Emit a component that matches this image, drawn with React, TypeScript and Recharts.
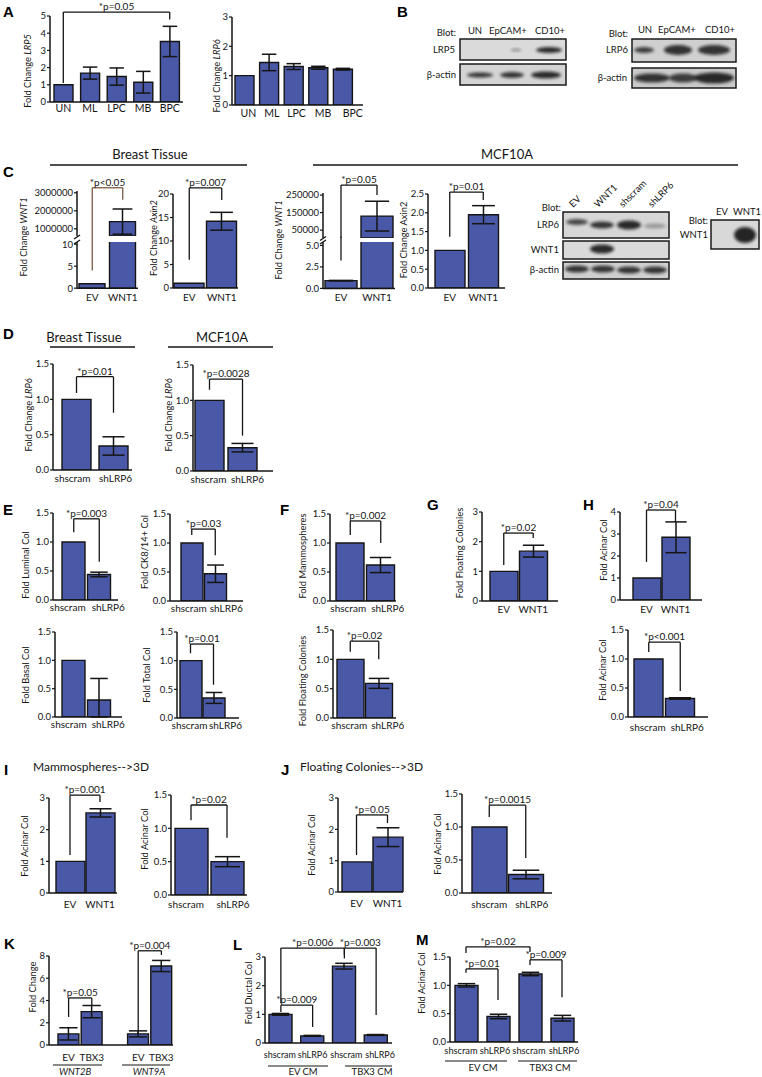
import React from 'react';
import { BarChart, Bar, XAxis, YAxis, ErrorBar, ReferenceLine } from 'recharts';

const BAR = '#4a59a7';
const INK = '#151515';
const FONT = 'Lato, "Open Sans", sans-serif';

type Err = number | [number, number] | null;
type Sig = { a: number; b: number; ya: number; top: number; yb: number; text: string; color?: string };
type Leg = { a: number; y1: number; y2: number; color?: string };

// ---------- data ----------
const cellTypes = ['UN', 'ML', 'LPC', 'MB', 'BPC'];
const lrp5Fold = [1, 1.68, 1.48, 1.15, 3.52];
const lrp5Err: Err[] = [0, 0.35, 0.5, 0.63, 0.88];
const lrp6Fold = [1, 1.45, 1.31, 1.27, 1.22];
const lrp6Err: Err[] = [0, 0.28, 0.1, 0.05, 0.03];

const evWnt = ['EV', 'WNT1'];
const shPair = ['shscram', 'shLRP6'];

const tissueWnt1 = [1, 1400000];
const tissueWnt1Err: Err[] = [0, 700000];
const tissueAxin2 = [1, 14.2];
const tissueAxin2Err: Err[] = [0, 1.9];
const mcfWnt1 = [0.9, 130000];
const mcfWnt1Err: Err[] = [0.03, 85000];
const mcfAxin2 = [1, 1.95];
const mcfAxin2Err: Err[] = [0, 0.24];

const tissueLrp6 = [1, 0.34];
const tissueLrp6Err: Err[] = [0, 0.13];
const mcfLrp6 = [1, 0.33];
const mcfLrp6Err: Err[] = [0, 0.06];

const luminal = [1, 0.44];
const luminalErr: Err[] = [0, 0.04];
const ck814 = [1, 0.47];
const ck814Err: Err[] = [0, 0.15];
const basal = [1, 0.3];
const basalErr: Err[] = [0, [0.3, 0.38]];
const totalCol = [1, 0.35];
const totalErr: Err[] = [0, 0.095];
const mammoSh = [1, 0.62];
const mammoShErr: Err[] = [0, 0.13];
const floatSh = [1, 0.59];
const floatShErr: Err[] = [0, 0.085];
const floatWnt = [1, 1.68];
const floatWntErr: Err[] = [0, 0.2];
const acinarWnt = [1, 2.85];
const acinarWntErr: Err[] = [0, 0.7];
const acinarSh = [1, 0.32];
const acinarShErr: Err[] = [0, 0.012];
const mammo3dWnt = [1, 2.53];
const mammo3dWntErr: Err[] = [0, 0.13];
const mammo3dSh = [1, 0.5];
const mammo3dShErr: Err[] = [0, 0.075];
const float3dWnt = [0.96, 1.75];
const float3dWntErr: Err[] = [0, 0.3];
const float3dSh = [1, 0.28];
const float3dShErr: Err[] = [0, 0.065];

const tbxCats = ['EV', 'TBX3', '', 'EV', 'TBX3'];
const tbxFold = [1, 3, null, 1, 7.1];
const tbxErr: Err[] = [0.55, 0.55, null, 0.27, 0.5];

const cmCats = ['shscram', 'shLRP6', 'shscram', 'shLRP6'];
const ductalCm = [1, 0.25, 2.68, 0.28];
const ductalCmErr: Err[] = [0.03, 0.015, 0.1, 0.015];
const acinarCm = [1, 0.45, 1.2, 0.42];
const acinarCmErr: Err[] = [0.03, 0.04, 0.03, 0.05];

const int = (v: number) => String(v);
const dec1 = (v: number) => v.toFixed(1);

// split a series for a broken axis
const abovePart = (vals: number[], errs: Err[], min: number) => ({
  v: vals.map((x) => (x > min ? x : null)),
  e: errs.map((e, i) => (vals[i] > min ? e : null)),
});
const belowPart = (vals: number[], errs: Err[], max: number) => ({
  v: vals.map((x) => Math.min(x, max * 1.03)),
  e: errs.map((e, i) => (vals[i] > max ? null : e)),
});

// ---------- one small bar chart ----------
const ML = 54;
const YW = 48;
const MT = 34;
const MR = 8;
const MB = 24;

type MiniProps = {
  x0: number; x1: number; yTop: number; yBot: number;
  labels: string[]; values: (number | null)[]; errs: Err[];
  domain: [number, number]; ticks: number[]; fmt?: (v: number) => string;
  barSize: number; padL?: number; padR?: number;
  sigs?: Sig[]; legs?: Leg[];
  hideX?: boolean; tickMargin?: number; tickDx?: number[]; fs?: number;
};

const catTick = (labels: string[], dxs: number[] | undefined, fs: number) => (t: any) => {
  const i = Number(t.payload.value);
  return (
    <text x={t.x + (dxs?.[i] ?? 0)} y={t.y} dy="0.72em" textAnchor="middle" fontSize={fs} fill={INK}>
      {labels[i]}
    </text>
  );
};

function Mini(p: MiniProps) {
  const w = p.x1 - p.x0 + ML + MR;
  const h = p.yBot - p.yTop + MT + MB;
  const fs = p.fs ?? 10;
  const rows = p.labels.map((l, i) => ({ k: String(i), v: p.values[i], e: p.errs[i] }));
  const line = { strokeWidth: 1.3, ifOverflow: 'visible' as const };
  return (
    <div style={{ position: 'absolute', left: p.x0 - ML, top: p.yTop - MT, width: w, height: h }}>
      <BarChart
        width={w}
        height={h}
        data={rows}
        margin={{ top: MT, right: MR, left: ML - YW, bottom: p.hideX ? MB : 0 }}
      >
        <XAxis
          dataKey="k"
          hide={p.hideX}
          height={MB}
          interval={0}
          tickLine={false}
          tickSize={0}
          tickMargin={(p.tickMargin ?? 6) - 0.5}
          axisLine={{ stroke: INK, strokeWidth: 1.5 }}
          padding={{ left: p.padL ?? 0, right: p.padR ?? 0 }}
          tick={catTick(p.labels, p.tickDx, fs)}
        />
        <YAxis
          type="number"
          width={YW}
          domain={p.domain}
          ticks={p.ticks}
          allowDataOverflow
          interval={0}
          tickSize={3}
          tickMargin={1}
          tickLine={{ stroke: INK, strokeWidth: 1.2 }}
          axisLine={{ stroke: INK, strokeWidth: 1.5 }}
          tick={{ fill: INK, fontSize: 9.5 }}
          tickFormatter={p.fmt ?? dec1}
        />
        <Bar dataKey="v" fill={BAR} stroke={INK} strokeWidth={1.4} barSize={p.barSize} isAnimationActive={false}>
          <ErrorBar dataKey="e" width={p.barSize * 0.38} stroke={INK} strokeWidth={1.5} />
        </Bar>
        {(p.legs ?? []).map((l, j) => (
          <ReferenceLine
            key={`l${j}`}
            segment={[{ x: String(l.a), y: l.y1 }, { x: String(l.a), y: l.y2 }]}
            stroke={l.color ?? INK}
            {...line}
          />
        ))}
        {(p.sigs ?? []).flatMap((s, j) => {
          const a = String(s.a);
          const b = String(s.b);
          const c = s.color ?? INK;
          return [
            <ReferenceLine key={`a${j}`} segment={[{ x: a, y: s.ya }, { x: a, y: s.top }]} stroke={c} {...line} />,
            <ReferenceLine
              key={`t${j}`}
              segment={[{ x: a, y: s.top }, { x: b, y: s.top }]}
              stroke={c}
              {...line}
              label={{ value: s.text, position: 'top', offset: 2, fontSize: 10, fill: INK }}
            />,
            <ReferenceLine key={`b${j}`} segment={[{ x: b, y: s.top }, { x: b, y: s.yb }]} stroke={c} {...line} />,
          ];
        })}
      </BarChart>
    </div>
  );
}

// ---------- overlay helpers ----------
function YLab({ x, y, parts, fs = 9.3 }: { x: number; y: number; parts: [string, boolean?][]; fs?: number }) {
  return (
    <text transform={`translate(${x},${y}) rotate(-90)`} textAnchor="middle" dominantBaseline="central" fontSize={fs} fill={INK}>
      {parts.map(([t, it], i) => (
        <tspan key={i} fontStyle={it ? 'italic' : 'normal'}>{t}</tspan>
      ))}
    </text>
  );
}

function Letter({ x, y, t }: { x: number; y: number; t: string }) {
  return (
    <text x={x} y={y} fontSize={15} fontWeight="bold" fontFamily='"Liberation Sans", Arial, sans-serif' fill="#000">
      {t}
    </text>
  );
}

function T({ x, y, t, anchor = 'middle', fs = 9.5, italic = false }: { x: number; y: number; t: string; anchor?: 'start' | 'middle' | 'end'; fs?: number; italic?: boolean }) {
  return (
    <text x={x} y={y} textAnchor={anchor} fontSize={fs} fill={INK} fontStyle={italic ? 'italic' : 'normal'}>
      {t}
    </text>
  );
}

function HLine({ x1, x2, y, w = 1.3 }: { x1: number; x2: number; y: number; w?: number }) {
  return <line x1={x1} x2={x2} y1={y} y2={y} stroke={INK} strokeWidth={w} />;
}

function Box({ x, y, w, h, fill }: { x: number; y: number; w: number; h: number; fill: string }) {
  return <rect x={x} y={y} width={w} height={h} fill={fill} stroke="#1a1a1a" strokeWidth={1.5} />;
}

function Band({ cx, cy, w, h, o }: { cx: number; cy: number; w: number; h: number; o: number }) {
  return <ellipse cx={cx} cy={cy} rx={w / 2} ry={h / 2} fill="#111" opacity={o} filter="url(#blotBlur)" />;
}

function Tilt({ x, y, t }: { x: number; y: number; t: string }) {
  return (
    <text transform={`translate(${x},${y}) rotate(-45)`} fontSize={9.5} fill={INK}>
      {t}
    </text>
  );
}

function BreakMark({ x, y }: { x: number; y: number }) {
  return <line x1={x - 3} y1={y + 2} x2={x + 3} y2={y - 2} stroke={INK} strokeWidth={1.3} />;
}

const c1Up = abovePart(tissueWnt1, tissueWnt1Err, 600000);
const c1Lo = belowPart(tissueWnt1, tissueWnt1Err, 10.5);
const c3Up = abovePart(mcfWnt1, mcfWnt1Err, 5000);
const c3Lo = belowPart(mcfWnt1, mcfWnt1Err, 5.4);

export default function App() {
  return (
    <div
      style={{
        position: 'absolute', left: 0, top: 0, width: 762, height: 1077,
        background: '#fff', fontFamily: FONT, color: INK, overflow: 'hidden',
      }}
    >
      {/* A */}
      <Mini x0={50} x1={183} yTop={16} yBot={102} labels={cellTypes} values={lrp5Fold} errs={lrp5Err}
        domain={[0, 5]} ticks={[0, 1, 2, 3, 4, 5]} fmt={int} barSize={19} fs={10.5} tickMargin={2.5}
        sigs={[{ a: 0, b: 4, ya: 1.1, top: 5.23, yb: 4.8, text: '*p=0.05' }]} />
      <Mini x0={232} x1={363} yTop={17} yBot={105} labels={cellTypes} values={lrp6Fold} errs={lrp6Err}
        domain={[0, 3]} ticks={[0, 1, 2, 3]} fmt={int} barSize={19} fs={10.5} padR={8} tickMargin={5}
        tickDx={[4, 3, 3, 5, 10]} />

      {/* C */}
      <Mini x0={77} x1={138} yTop={191.2} yBot={236.2} labels={evWnt} values={c1Up.v} errs={c1Up.e}
        domain={[600000, 3100000]} ticks={[1000000, 2000000, 3000000]} fmt={int} barSize={26} hideX
        sigs={[{ a: 0, b: 1, ya: 600000, top: 3280000, yb: 2610000, text: '*p<0.05', color: '#7a5a44' }]} />
      <Mini x0={77} x1={138} yTop={241.8} yBot={288} labels={evWnt} values={c1Lo.v} errs={c1Lo.e}
        domain={[0, 10.5]} ticks={[0, 5, 10]} fmt={int} barSize={26} tickMargin={6}
        legs={[{ a: 0, y1: 4, y2: 11.9, color: '#7a5a44' }]} />
      <Mini x0={173} x1={238} yTop={194} yBot={288} labels={evWnt} values={tissueAxin2} errs={tissueAxin2Err}
        domain={[0, 20]} ticks={[0, 5, 10, 15, 20]} fmt={int} barSize={30} tickMargin={6}
        sigs={[{ a: 0, b: 1, ya: 6, top: 21.3, yb: 18.7, text: '*p=0.007' }]} />
      <Mini x0={323} x1={395} yTop={192.9} yBot={237.9} labels={evWnt} values={c3Up.v} errs={c3Up.e}
        domain={[5000, 262000]} ticks={[50000, 150000, 250000]} fmt={int} barSize={32} hideX
        sigs={[{ a: 0, b: 1, ya: 5000, top: 307000, yb: 250000, text: '*p=0.05' }]} />
      <Mini x0={323} x1={395} yTop={241.6} yBot={288} labels={evWnt} values={c3Lo.v} errs={c3Lo.e}
        domain={[0, 5.4]} ticks={[0, 2.5, 5]} fmt={dec1} barSize={32} tickMargin={6}
        legs={[{ a: 0, y1: 3.26, y2: 6.0 }]} />
      <Mini x0={428} x1={505} yTop={194} yBot={288} labels={evWnt} values={mcfAxin2} errs={mcfAxin2Err}
        domain={[0, 2.5]} ticks={[0, 0.5, 1, 1.5, 2, 2.5]} barSize={30} padL={5} padR={5} tickMargin={6}
        sigs={[{ a: 0, b: 1, ya: 1.36, top: 2.55, yb: 2.34, text: '*p=0.01' }]} />

      {/* D */}
      <Mini x0={53} x1={132} yTop={364} yBot={470} labels={shPair} values={tissueLrp6} errs={tissueLrp6Err}
        domain={[0, 1.5]} ticks={[0, 0.5, 1, 1.5]} barSize={29} padL={5} tickMargin={5} tickDx={[-4, 2]}
        sigs={[{ a: 0, b: 1, ya: 1.09, top: 1.32, yb: 0.81, text: '*p=0.01' }]} />
      <Mini x0={193} x1={273} yTop={365} yBot={471} labels={shPair} values={mcfLrp6} errs={mcfLrp6Err}
        domain={[0, 1.5]} ticks={[0, 0.5, 1, 1.5]} barSize={29} padR={14} tickMargin={5} tickDx={[-1, 5]}
        sigs={[{ a: 0, b: 1, ya: 1.15, top: 1.3, yb: 0.5, text: '*p=0.0028' }]} />

      {/* E */}
      <Mini x0={53} x1={118} yTop={513} yBot={600} labels={shPair} values={luminal} errs={luminalErr}
        domain={[0, 1.5]} ticks={[0, 0.5, 1, 1.5]} barSize={23} padL={8} padR={6} tickMargin={4} tickDx={[-6, 9]}
        sigs={[{ a: 0, b: 1, ya: 1.17, top: 1.4, yb: 0.66, text: '*p=0.003' }]} />
      <Mini x0={170} x1={243} yTop={514} yBot={601} labels={shPair} values={ck814} errs={ck814Err}
        domain={[0, 1.5]} ticks={[0, 0.5, 1, 1.5]} barSize={22} padL={10} padR={16} tickMargin={4} tickDx={[-3, 11]}
        sigs={[{ a: 0, b: 1, ya: 1.14, top: 1.24, yb: 0.79, text: '*p=0.03' }]} />
      <Mini x0={55} x1={122} yTop={632} yBot={717} labels={shPair} values={basal} errs={basalErr}
        domain={[0, 1.5]} ticks={[0, 0.5, 1, 1.5]} barSize={23} padL={6} padR={10} tickMargin={4} tickDx={[-5, 9]} />
      <Mini x0={177} x1={239} yTop={632} yBot={718} labels={shPair} values={totalCol} errs={totalErr}
        domain={[0, 1.5]} ticks={[0, 0.5, 1, 1.5]} barSize={22} padL={2} padR={14} tickMargin={4} tickDx={[-1, 12]}
        sigs={[{ a: 0, b: 1, ya: 1.13, top: 1.29, yb: 0.58, text: '*p=0.01' }]} />

      {/* F */}
      <Mini x0={330} x1={396} yTop={514} yBot={601} labels={shPair} values={mammoSh} errs={mammoShErr}
        domain={[0, 1.5]} ticks={[0, 0.5, 1, 1.5]} barSize={28} padL={5} tickMargin={4} tickDx={[-2, 7]}
        sigs={[{ a: 0, b: 1, ya: 1.14, top: 1.38, yb: 1.0, text: '*p=0.002' }]} />
      <Mini x0={333} x1={396} yTop={630} yBot={718} labels={shPair} values={floatSh} errs={floatShErr}
        domain={[0, 1.5]} ticks={[0, 0.5, 1, 1.5]} barSize={27} padL={3} padR={3} tickMargin={4} tickDx={[-1, 9]}
        sigs={[{ a: 0, b: 1, ya: 1.13, top: 1.31, yb: 1.0, text: '*p=0.02' }]} />

      {/* G */}
      <Mini x0={482} x1={558} yTop={512} yBot={601} labels={evWnt} values={floatWnt} errs={floatWntErr}
        domain={[0, 3]} ticks={[0, 1, 2, 3]} fmt={int} barSize={28} padL={7} padR={10} tickMargin={5}
        sigs={[{ a: 0, b: 1, ya: 1.21, top: 2.29, yb: 2.12, text: '*p=0.02' }]} />

      {/* H */}
      <Mini x0={620} x1={702} yTop={512} yBot={600} labels={evWnt} values={acinarWnt} errs={acinarWntErr}
        domain={[0, 4]} ticks={[0, 1, 2, 3, 4]} fmt={int} barSize={28} padL={12} padR={12} tickMargin={6}
        sigs={[{ a: 0, b: 1, ya: 1.73, top: 4.09, yb: 3.55, text: '*p=0.04' }]} />
      <Mini x0={628} x1={708} yTop={630} yBot={717} labels={shPair} values={acinarSh} errs={acinarShErr}
        domain={[0, 1.5]} ticks={[0, 0.5, 1, 1.5]} barSize={29} padL={5} padR={12} tickMargin={7} tickDx={[-1, 7]}
        sigs={[{ a: 0, b: 1, ya: 1.12, top: 1.29, yb: 0.45, text: '*p<0.001' }]} />

      {/* I */}
      <Mini x0={49} x1={117} yTop={798} yBot={893} labels={evWnt} values={mammo3dWnt} errs={mammo3dWntErr}
        domain={[0, 3]} ticks={[0, 1, 2, 3]} fmt={int} barSize={29} padL={6} padR={2} tickMargin={8}
        sigs={[{ a: 0, b: 1, ya: 1.2, top: 3.09, yb: 2.87, text: '*p=0.001' }]} />
      <Mini x0={171} x1={247} yTop={795} yBot={895} labels={shPair} values={mammo3dSh} errs={mammo3dShErr}
        domain={[0, 1.5]} ticks={[0, 0.5, 1, 1.5]} barSize={33} padL={2} padR={2} tickMargin={6} tickDx={[-5, 6]}
        sigs={[{ a: 0, b: 1, ya: 1.12, top: 1.35, yb: 0.86, text: '*p=0.02' }]} />

      {/* J */}
      <Mini x0={338} x1={403} yTop={798} yBot={892} labels={evWnt} values={float3dWnt} errs={float3dWntErr}
        domain={[0, 3]} ticks={[0, 1, 2, 3]} fmt={int} barSize={30} padL={3} tickMargin={8}
        sigs={[{ a: 0, b: 1, ya: 1.18, top: 2.46, yb: 2.2, text: '*p=0.05' }]} />
      <Mini x0={462} x1={552} yTop={794} yBot={893} labels={shPair} values={float3dSh} errs={float3dShErr}
        domain={[0, 1.5]} ticks={[0, 0.5, 1, 1.5]} barSize={35} padL={9} padR={8} tickMargin={8} tickDx={[0, 6]}
        sigs={[{ a: 0, b: 1, ya: 1.15, top: 1.33, yb: 0.53, text: '*p=0.0015' }]} />

      {/* K */}
      <Mini x0={49} x1={173} yTop={956} yBot={1045} labels={tbxCats} values={tbxFold} errs={tbxErr}
        domain={[0, 8]} ticks={[0, 2, 4, 6, 8]} fmt={int} barSize={24} padL={8} tickMargin={9}
        sigs={[
          { a: 0, b: 1, ya: 2.52, top: 4.23, yb: 3.6, text: '*p=0.05' },
          { a: 3, b: 4, ya: 1.08, top: 8.47, yb: 8.1, text: '*p=0.004' },
        ]} />

      {/* L */}
      <Mini x0={265} x1={392} yTop={957} yBot={1043} labels={cmCats} values={ductalCm} errs={ductalCmErr}
        domain={[0, 3]} ticks={[0, 1, 2, 3]} fmt={int} barSize={23} fs={9} tickMargin={9} tickDx={[-1, 0, 2, 4]}
        sigs={[
          { a: 0, b: 1, ya: 1.08, top: 1.32, yb: 0.56, text: '*p=0.009' },
          { a: 0, b: 2, ya: 1.39, top: 3.31, yb: 3.07, text: '*p=0.006' },
          { a: 2, b: 3, ya: 2.95, top: 3.31, yb: 0.98, text: '*p=0.003' },
        ]} />

      {/* M */}
      <Mini x0={450} x1={578} yTop={957} yBot={1042} labels={cmCats} values={acinarCm} errs={acinarCmErr}
        domain={[0, 1.5]} ticks={[0, 0.5, 1, 1.5]} barSize={23} fs={9.3} tickMargin={6} tickDx={[-5, -3, -1, 2]}
        sigs={[
          { a: 0, b: 1, ya: 1.22, top: 1.29, yb: 0.74, text: '*p=0.01' },
          { a: 0, b: 2, ya: 1.57, top: 1.68, yb: 1.59, text: '*p=0.02' },
          { a: 2, b: 3, ya: 1.36, top: 1.45, yb: 0.79, text: '*p=0.009' },
        ]} />

      <svg width={762} height={1077} style={{ position: 'absolute', left: 0, top: 0, pointerEvents: 'none' }}>
        <defs>
          <filter id="blotBlur" x="-50%" y="-50%" width="200%" height="200%">
            <feGaussianBlur stdDeviation="1.5" />
          </filter>
        </defs>

        {/* panel letters */}
        <Letter x={3} y={17} t="A" />
        <Letter x={397} y={17} t="B" />
        <Letter x={3} y={177} t="C" />
        <Letter x={3} y={339} t="D" />
        <Letter x={3} y={515} t="E" />
        <Letter x={280} y={515} t="F" />
        <Letter x={427} y={510} t="G" />
        <Letter x={583} y={510} t="H" />
        <Letter x={4} y={775} t="I" />
        <Letter x={281} y={775} t="J" />
        <Letter x={4} y={949} t="K" />
        <Letter x={233} y={950} t="L" />
        <Letter x={416} y={945} t="M" />

        {/* headings */}
        <T x={150} y={159} t="Breast Tissue" fs={13} />
        <T x={507} y={159} t="MCF10A" fs={13} />
        <HLine x1={50} x2={247} y={165} />
        <HLine x1={313} x2={738} y={165} />
        <T x={84} y={342} t="Breast Tissue" fs={13} />
        <T x={222} y={342} t="MCF10A" fs={13} />
        <HLine x1={50} x2={135} y={347} />
        <HLine x1={168} x2={273} y={347} />
        <T x={33} y={771} t="Mammospheres-->3D" fs={12} anchor="start" />
        <T x={300} y={771} t="Floating Colonies-->3D" fs={12} anchor="start" />

        {/* y-axis titles */}
        <YLab x={27} y={71} parts={[['Fold Change '], ['LRP5', true]]} />
        <YLab x={216} y={76} parts={[['Fold Change '], ['LRP6', true]]} />
        <YLab x={23} y={237} parts={[['Fold Change '], ['WNT1', true]]} />
        <YLab x={153} y={238} parts={[['Fold Change '], ['Axin2', true]]} />
        <YLab x={278} y={240} parts={[['Fold Change '], ['WNT1', true]]} />
        <YLab x={403} y={240} parts={[['Fold Change Axin2']]} />
        <YLab x={28} y={415} parts={[['Fold Change '], ['LRP6', true]]} />
        <YLab x={168} y={415} parts={[['Fold Change '], ['LRP6', true]]} />
        <YLab x={25} y={565} parts={[['Fold Luminal Col']]} />
        <YLab x={144} y={552} parts={[['Fold CK8/14+ Col']]} />
        <YLab x={25} y={675} parts={[['Fold Basal Col']]} />
        <YLab x={146} y={675} parts={[['Fold Total Col']]} />
        <YLab x={302} y={556} parts={[['Fold Mammospheres']]} />
        <YLab x={302} y={681} parts={[['Fold Floating Colonies']]} />
        <YLab x={459} y={553} parts={[['Fold Floating Colonies']]} />
        <YLab x={603} y={550} parts={[['Fold Acinar Col']]} />
        <YLab x={602} y={670} parts={[['Fold Acinar Col']]} />
        <YLab x={24} y={846} parts={[['Fold Acinar Col']]} />
        <YLab x={144} y={839} parts={[['Fold Acinar Col']]} />
        <YLab x={311} y={845} parts={[['Fold Acinar Col']]} />
        <YLab x={437} y={844} parts={[['Fold Acinar Col']]} />
        <YLab x={32} y={987} parts={[['Fold Change']]} />
        <YLab x={248} y={993} parts={[['Fold Ductal Col']]} />
        <YLab x={421} y={983} parts={[['Fold Acinar Col']]} />

        {/* broken-axis marks */}
        <BreakMark x={77} y={237} />
        <BreakMark x={77} y={242} />
        <BreakMark x={323} y={238.5} />
        <BreakMark x={323} y={242} />

        {/* group captions */}
        <HLine x1={53} x2={102} y={1065} w={1} />
        <HLine x1={122} x2={170} y={1065} w={1} />
        <T x={75} y={1075} t="WNT2B" fs={9.5} italic />
        <T x={149} y={1075} t="WNT9A" fs={9.5} italic />
        <HLine x1={268} x2={328} y={1066} w={1} />
        <HLine x1={345} x2={392} y={1066} w={1} />
        <T x={303} y={1075} t="EV CM" fs={9.5} />
        <T x={372} y={1075} t="TBX3 CM" fs={9.5} />
        <HLine x1={445} x2={507} y={1061} w={1} />
        <HLine x1={518} x2={577} y={1061} w={1} />
        <T x={483} y={1071} t="EV CM" fs={9.5} />
        <T x={550} y={1071} t="TBX3 CM" fs={9.5} />

        {/* B: LRP5 blot */}
        <T x={456} y={36} t="Blot:" anchor="end" />
        <T x={475} y={34} t="UN" />
        <T x={508} y={34} t="EpCAM+" />
        <T x={550} y={34} t="CD10+" />
        <T x={455} y={53} t="LRP5" anchor="end" />
        <Box x={460} y={39} w={106} h={21} fill="#dadada" />
        <Band cx={516} cy={50} w={10} h={3} o={0.35} />
        <Band cx={549} cy={50} w={26} h={6} o={0.85} />
        <T x={456} y={78} t="β-actin" anchor="end" />
        <Box x={460} y={64} w={106} h={21} fill="#d4d4d4" />
        <Band cx={480} cy={75} w={26} h={5} o={0.8} />
        <Band cx={512} cy={75} w={24} h={6} o={0.8} />
        <Band cx={546} cy={75} w={30} h={7} o={0.85} />

        {/* B: LRP6 blot */}
        <T x={628} y={37} t="Blot:" anchor="end" />
        <T x={645} y={33} t="UN" />
        <T x={677} y={33} t="EpCAM+" />
        <T x={720} y={33} t="CD10+" />
        <T x={628} y={53} t="LRP6" anchor="end" />
        <Box x={632} y={39} w={104} h={23} fill="#d0d0d0" />
        <Band cx={644} cy={50} w={20} h={6} o={0.75} />
        <Band cx={678} cy={50} w={28} h={10} o={0.8} />
        <Band cx={714} cy={50} w={32} h={10} o={0.8} />
        <T x={627} y={81} t="β-actin" anchor="end" />
        <Box x={632} y={68} w={104} h={20} fill="#c9c9c9" />
        <Band cx={652} cy={78} w={36} h={9} o={0.8} />
        <Band cx={683} cy={78} w={28} h={9} o={0.75} />
        <Band cx={714} cy={78} w={40} h={11} o={0.85} />

        {/* C: LRP6 / WNT1 / actin blot */}
        <T x={561} y={211} t="Blot:" anchor="end" />
        <Tilt x={573} y={208} t="EV" />
        <Tilt x={598} y={208} t="WNT1" />
        <Tilt x={623} y={208} t="shscram" />
        <Tilt x={652} y={208} t="shLRP6" />
        <T x={559} y={228} t="LRP6" anchor="end" />
        <Box x={563} y={212} w={106} h={26} fill="#d6d6d6" />
        <Band cx={577} cy={222} w={22} h={6} o={0.7} />
        <Band cx={602} cy={225} w={24} h={7} o={0.8} />
        <Band cx={629} cy={225} w={24} h={9} o={0.85} />
        <Band cx={655} cy={226} w={22} h={5} o={0.3} />
        <T x={559} y={253} t="WNT1" anchor="end" />
        <Box x={563} y={241} w={106} h={18} fill="#dadada" />
        <Band cx={602} cy={249} w={24} h={9} o={0.85} />
        <T x={559} y={273} t="β-actin" anchor="end" />
        <Box x={563} y={262} w={106} h={17} fill="#cfcfcf" />
        <Band cx={577} cy={269} w={24} h={7} o={0.8} />
        <Band cx={603} cy={269} w={24} h={7} o={0.8} />
        <Band cx={629} cy={270} w={24} h={7} o={0.8} />
        <Band cx={655} cy={270} w={24} h={7} o={0.8} />

        {/* C: WNT1 blot */}
        <T x={722} y={215} t="EV" />
        <T x={747} y={215} t="WNT1" />
        <T x={708} y={224} t="Blot:" anchor="end" />
        <T x={708} y={238} t="WNT1" anchor="end" />
        <Box x={711} y={220} w={48} h={29} fill="#d8d8d8" />
        <Band cx={745} cy={235} w={22} h={16} o={0.88} />
      </svg>
    </div>
  );
}
